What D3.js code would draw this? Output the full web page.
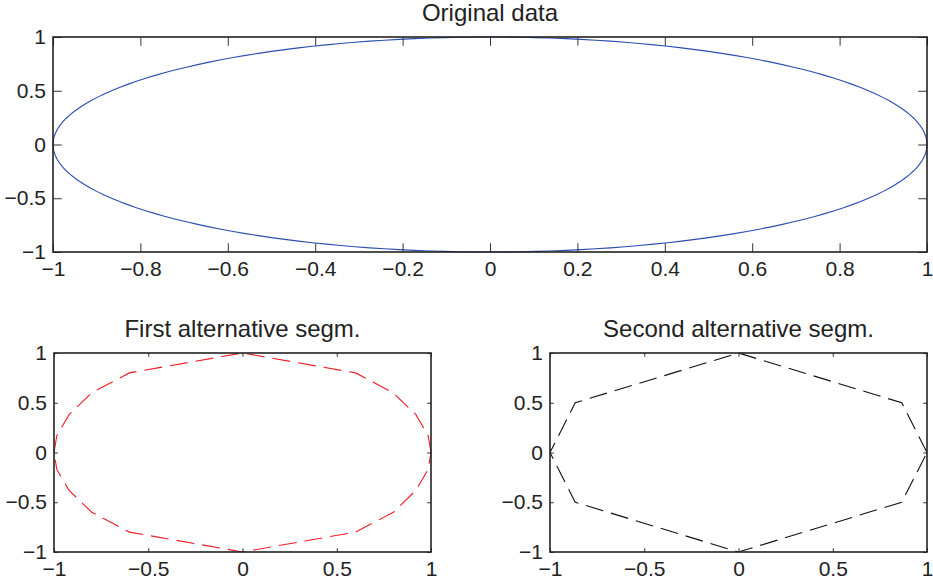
<!DOCTYPE html>
<html>
<head>
<meta charset="utf-8">
<script src="https://cdn.jsdelivr.net/npm/d3@7"></script>
<style>
  body { margin: 0; background: #fff; }
  svg { display: block; }
  text { font-family: "Liberation Sans", Arial, sans-serif; fill: #222; }
</style>
</head>
<body>
<svg width="933" height="584"></svg>
<script>
// original ellipse, sampled densely (read as cos/sin of the angle)
const origAngles = d3.range(0, 361, 2);
const origX = origAngles.map(a => Math.cos(a * Math.PI / 180));
const origY = origAngles.map(a => Math.sin(a * Math.PI / 180));

// first alternative segmentation vertices
const firstX = [1, 0.985, 0.92, 0.8, 0.6, 0, -0.6, -0.8, -0.92, -0.985, -1, -0.985, -0.92, -0.8, -0.6, 0, 0.6, 0.8, 0.92, 0.985, 1];
const firstY = [0, 0.17, 0.38, 0.6, 0.8, 1, 0.8, 0.6, 0.38, 0.17, 0, -0.17, -0.38, -0.6, -0.8, -1, -0.8, -0.6, -0.38, -0.17, 0];

// second alternative segmentation vertices
const secondX = [1, 0.866, 0, -0.866, -1, -0.866, 0, 0.866, 1];
const secondY = [0, 0.5, 1, 0.5, 0, -0.5, -1, -0.5, 0];

const topXTicks = [-1, -0.8, -0.6, -0.4, -0.2, 0, 0.2, 0.4, 0.6, 0.8, 1];
const smallXTicks = [-1, -0.5, 0, 0.5, 1];
const yTicks = [-1, -0.5, 0, 0.5, 1];

const svg = d3.select('svg');
const fmt = d => d < 0 ? '\u2212' + Math.abs(d) : String(d);

function panel(box, title, xs, ys, xTicks, color, dash) {
  const w = box.right - box.left;
  const h = box.bottom - box.top;
  const tick = 0.01 * Math.max(w, h);
  const g = svg.append('g').attr('transform', `translate(${box.left}, ${box.top})`);

  const x = d3.scaleLinear().domain([-1, 1]).range([0, w]);
  const y = d3.scaleLinear().domain([-1, 1]).range([h, 0]);

  const data = xs.map((v, i) => [v, ys[i]]);
  g.append('path')
    .datum(data)
    .attr('fill', 'none')
    .attr('stroke', color)
    .attr('stroke-width', 1.1)
    .attr('stroke-dasharray', dash)
    .attr('d', d3.line().x(d => x(d[0])).y(d => y(d[1])));

  const styleAxis = sel => {
    sel.select('.domain').remove();
    sel.selectAll('.tick line').attr('stroke', '#333').attr('stroke-width', 1);
    sel.selectAll('.tick text').style('font-size', '21px').attr('fill', '#222');
  };

  g.append('g').attr('transform', `translate(0, ${h})`)
    .call(d3.axisBottom(x).tickValues(xTicks).tickFormat(fmt).tickSizeInner(-tick).tickSizeOuter(0).tickPadding(9))
    .call(styleAxis);
  g.append('g')
    .call(d3.axisTop(x).tickValues(xTicks).tickFormat('').tickSizeInner(-tick).tickSizeOuter(0))
    .call(styleAxis);
  g.append('g')
    .call(d3.axisLeft(y).tickValues(yTicks).tickFormat(fmt).tickSizeInner(-tick).tickSizeOuter(0).tickPadding(7))
    .call(styleAxis);
  g.append('g').attr('transform', `translate(${w}, 0)`)
    .call(d3.axisRight(y).tickValues(yTicks).tickFormat('').tickSizeInner(-tick).tickSizeOuter(0))
    .call(styleAxis);

  g.append('rect')
    .attr('width', w).attr('height', h)
    .attr('fill', 'none').attr('stroke', '#222').attr('stroke-width', 1.6);

  g.append('text')
    .attr('x', w / 2).attr('y', -16)
    .attr('text-anchor', 'middle')
    .style('font-size', '24px')
    .text(title);
}

panel({ left: 53, right: 927, top: 37, bottom: 252 }, 'Original data', origX, origY, topXTicks, '#2b4eb0', null);
panel({ left: 54, right: 431, top: 353, bottom: 552 }, 'First alternative segm.', firstX, firstY, smallXTicks, '#ee1c25', '18,8');
panel({ left: 550, right: 927, top: 353, bottom: 552 }, 'Second alternative segm.', secondX, secondY, smallXTicks, '#111', '18,8');
</script>
</body>
</html>
